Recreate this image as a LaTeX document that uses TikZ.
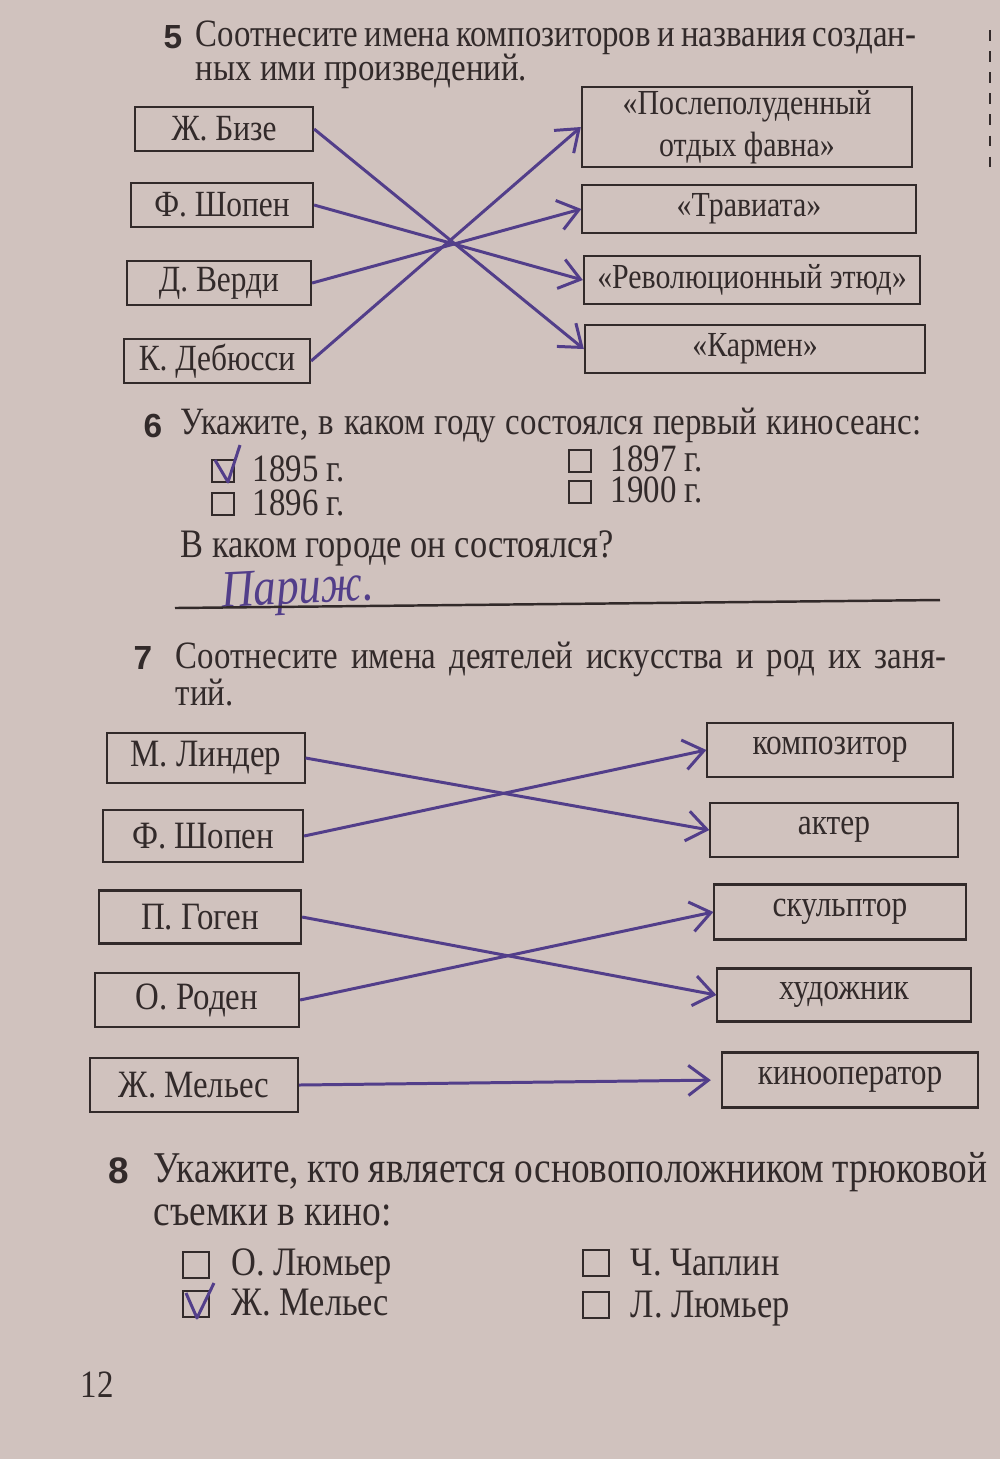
\documentclass[tikz,border=0pt]{standalone}
\usepackage{fontspec}
\setmainfont{Liberation Serif}[FakeStretch=0.85]
\setsansfont{Liberation Sans}
\usetikzlibrary{arrows.meta}
\definecolor{paper}{RGB}{208,194,190}
\definecolor{print}{RGB}{50,42,42}
\definecolor{ink}{RGB}{82,62,138}
\newcommand\fs[2]{\fontsize{#1}{#2}\selectfont\lineskiplimit=-20pt\relax}
\begin{document}
\begin{tikzpicture}[x=0.01cm, y=-0.01cm,
    every node/.style={text=print, font=\fs{11}{13}},
    num/.style={anchor=base west, inner sep=0pt, font=\sffamily\bfseries\fontsize{9.5}{11}\selectfont},
    txt/.style={anchor=base west, inner sep=0pt, align=left},
    namebox/.style={draw=print, line width=0.6pt, inner sep=1pt, minimum height=0.44cm, font=\fs{10.5}{12}},
    workbox/.style={draw=print, line width=0.6pt, inner sep=1pt, minimum height=0.48cm, align=center, font=\fs{10}{12}},
    cbox/.style={draw=print, line width=0.6pt, minimum size=0.22cm, inner sep=0pt},
    pen/.style={draw=ink, line width=0.85pt, -{Straight Barb[length=2mm,width=3mm]}},
    tick/.style={draw=ink, line width=0.85pt, line join=round}]
    \fill[paper] (0,0) rectangle (1000,1459);
    \useasboundingbox (0,0) rectangle (1000,1459);
    \draw[print, dashed, thin] (990,30) -- (990,175);

    % base anchor of a two-line text = baseline of its second line
    \node[num] (n5) at (163,48) {5};
    \node[txt, font=\fs{11}{9.4}] (q5) at (195,80) {\makebox[7.2cm][s]{Соотнесите имена композиторов и названия создан-}\\ных ими произведений.};

    \node[namebox, minimum width=1.78cm] (bize) at (224,129) {Ж. Бизе};
    \node[namebox, minimum width=1.82cm] (chopinA) at (222,205) {Ф. Шопен};
    \node[namebox, minimum width=1.84cm] (verdi) at (219,283) {Д. Верди};
    \node[namebox, minimum width=1.86cm] (debussy) at (217,361) {К. Дебюсси};
    \node[workbox, minimum width=3.3cm, minimum height=0.74cm] (faun) at (747,127) {«Послеполуденный\\отдых фавна»};
    \node[workbox, minimum width=3.33cm] (traviata) at (749,209) {«Травиата»};
    \node[workbox, minimum width=3.36cm] (etude) at (752,280) {«Революционный этюд»};
    \node[workbox, minimum width=3.4cm] (carmen) at (755,349) {«Кармен»};

    \draw[pen] (bize.east) -- (carmen.west);
    \draw[pen] (chopinA.east) -- (etude.west);
    \draw[pen] (verdi.east) -- (traviata.west);
    \draw[pen] (debussy.east) -- (faun.west);

    \node[num] (n6) at (143,437) {6};
    \node[txt] (q6) at (180,434) {\makebox[7.4cm][s]{Укажите, в каком году состоялся первый киносеанс:}};
    \node[cbox] (c95) at (223,471) {};
    \node[cbox] (c96) at (223,504) {};
    \node[txt, font=\fs{11}{9.4}] (yearsA) at (252,515) {1895 г.\\1896 г.};
    \node[cbox] (c97) at (580,461) {};
    \node[cbox] (c00) at (580,492) {};
    \node[txt, font=\fs{11}{8.8}] (yearsB) at (610,502) {1897 г.\\1900 г.};
    \draw[tick] ([shift={(-8,-11)}]c95.center) -- ([shift={(5,11)}]c95.center) -- ([shift={(17,-26)}]c95.center);
    \node[txt, font=\fs{11.5}{13}] (q6b) at (180,557) {В каком городе он состоялся?};
    \node[text=ink, rotate=3, font=\itshape\fontsize{15}{17}\selectfont] (city) at (298,592) {Париж.};
    \draw[print, line width=0.7pt] (175,608) -- (940,600);

    \node[num] (n7) at (133,669) {7};
    \node[txt, font=\fs{11}{10.5}] (q7) at (175,705) {\makebox[7.7cm][s]{Соотнесите имена деятелей искусства и род их заня-}\\тий.};

    \node[namebox, minimum width=1.97cm, minimum height=0.5cm, font=\fs{11}{13}] (linder) at (206,758) {М. Линдер};
    \node[namebox, minimum width=2cm, minimum height=0.52cm, font=\fs{11}{13}] (chopinB) at (203,836) {Ф. Шопен};
    \node[namebox, minimum width=2.02cm, minimum height=0.53cm, font=\fs{11}{13}] (gauguin) at (200,917) {П. Гоген};
    \node[namebox, minimum width=2.04cm, minimum height=0.54cm, font=\fs{11}{13}] (rodin) at (197,1000) {О. Роден};
    \node[namebox, minimum width=2.08cm, minimum height=0.54cm, font=\fs{11}{13}] (melies) at (194,1085) {Ж. Мельес};
    \node[workbox, minimum width=2.45cm, minimum height=0.54cm, font=\fs{10.5}{12}] (composer) at (830,750) {композитор};
    \node[workbox, minimum width=2.47cm, minimum height=0.54cm, font=\fs{10.5}{12}] (actor) at (834,830) {актер};
    \node[workbox, minimum width=2.51cm, minimum height=0.55cm, font=\fs{10.5}{12}] (sculptor) at (840,912) {скульптор};
    \node[workbox, minimum width=2.53cm, minimum height=0.53cm, font=\fs{10.5}{12}] (painter) at (844,995) {художник};
    \node[workbox, minimum width=2.56cm, minimum height=0.55cm, font=\fs{10.5}{12}] (camera) at (850,1080) {кинооператор};

    \draw[pen] (linder.east) -- (actor.west);
    \draw[pen] (chopinB.east) -- (composer.west);
    \draw[pen] (gauguin.east) -- (painter.west);
    \draw[pen] (rodin.east) -- (sculptor.west);
    \draw[pen, shorten >=1mm] (melies.east) -- (camera.west);

    \node[num, font=\sffamily\bfseries\fontsize{10.5}{12}\selectfont] (n8) at (108,1183) {8};
    \node[txt, font=\fs{12.5}{12}] (q8) at (153,1225) {\makebox[8.33cm][s]{Укажите, кто является основоположником трюковой}\\съемки в кино:};
    \node[cbox, minimum size=0.26cm] (cOL) at (196,1265) {};
    \node[cbox, minimum size=0.26cm] (cGM) at (196,1304) {};
    \node[txt, font=\fs{11.5}{11.1}] (namesA) at (231,1315) {О. Люмьер\\Ж. Мельес};
    \node[cbox, minimum size=0.26cm] (cCC) at (596,1263) {};
    \node[cbox, minimum size=0.26cm] (cLL) at (596,1305) {};
    \node[txt, font=\fs{11.5}{11.9}] (namesB) at (630,1317) {Ч. Чаплин\\Л. Люмьер};
    \draw[tick] ([shift={(-10,-11)}]cGM.center) -- ([shift={(1,14)}]cGM.center) -- ([shift={(18,-21)}]cGM.center);

    \node[txt, font=\fontsize{11}{12}\selectfont] (page) at (80,1397) {12};
\end{tikzpicture}
\end{document}
